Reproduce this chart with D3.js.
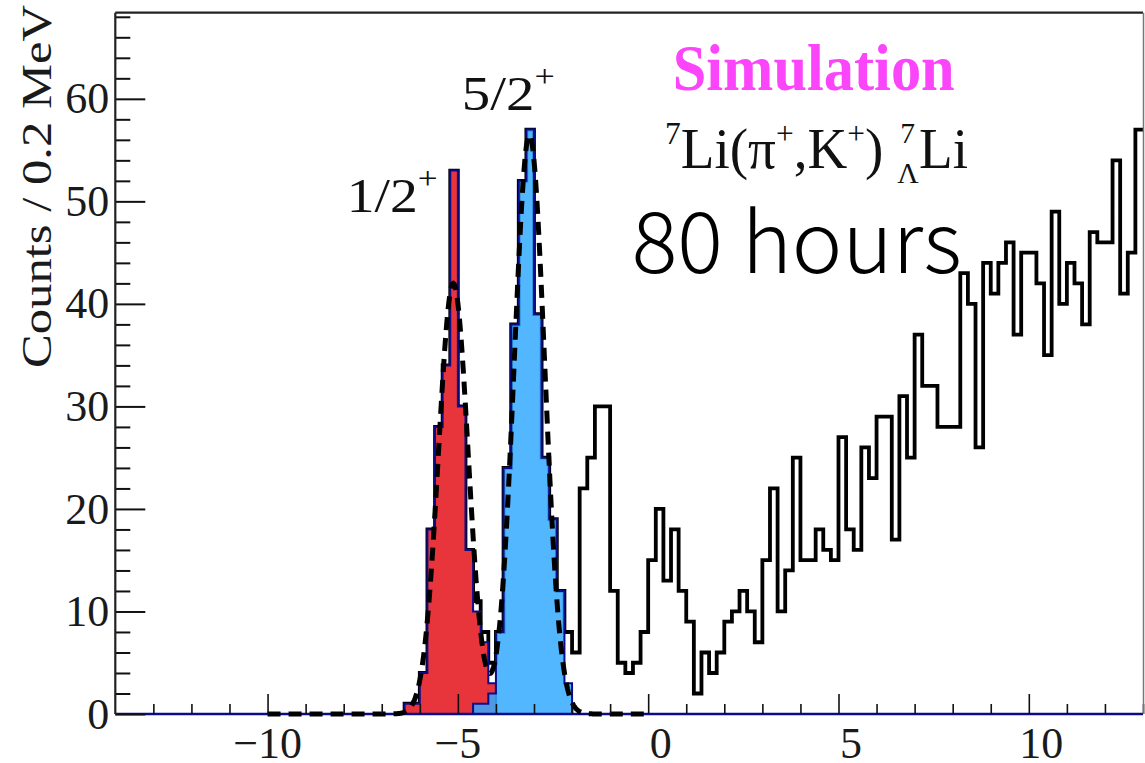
<!DOCTYPE html>
<html>
<head>
<meta charset="utf-8">
<script src="https://cdn.jsdelivr.net/npm/d3@7"></script>
<style>
  body { margin: 0; background: #fff; }
  svg { display: block; }
</style>
</head>
<body>
<svg id="chart" width="1145" height="763"></svg>
<script>
// binning of all histograms (MeV)
const binWidth = 0.2;
const xDomain = [-14, 13];
const yDomain = [0, 68.4];

// total spectrum, first bin starts at -6.4
const totalStart = -6.4;
const totalCounts = [
  1, 1, 4, 18, 28, 34, 53, 30, 16, 11,     // -6.4 .. -4.6
  8, 5, 8, 24, 38, 52, 57, 39, 25, 19,     // -4.4 .. -2.6
  12, 8, 6, 22, 25, 30, 30, 12, 5, 4,      // -2.4 .. -0.6
  5, 8, 15, 20, 13, 18, 12, 9, 2, 6,       // -0.4 .. 1.4
  4, 6, 9, 10, 12, 10, 7, 15, 22, 10,      // 1.6 .. 3.4
  14, 25, 15, 15, 18, 16, 15, 27, 18, 16,  // 3.6 .. 5.4
  26, 23, 29, 29, 17, 31, 25, 37, 32, 32,  // 5.6 .. 7.4
  28, 28, 28, 43, 40, 26, 44, 41, 44, 46,  // 7.6 .. 9.4
  37, 45, 45, 42, 35, 49, 40, 44, 42, 38,  // 9.6 .. 11.4
  47, 46, 46, 54, 41, 45, 57               // 11.6 .. 12.8
];

// 1/2+ state
const redStart = -6.4;
const redCounts = [1, 1, 4, 18, 28, 34, 53, 30, 16, 10, 7, 3];

// 5/2+ state
const blueStart = -4.6;
const blueCounts = [1, 1, 2, 8, 24, 38, 52, 57, 39, 25, 19, 12, 3];

// two gaussian fit (dashed)
const fitRange = [-10, 0];
const fitMeans = [-5.12, -3.12];
const fitSigmas = [0.39, 0.40];
const fitAmps = [42, 56.5];

const xMajor = [-10, -5, 0, 5, 10];
const yMajor = [0, 10, 20, 30, 40, 50, 60];

var svg = d3.select("#chart");
var serif = "'Liberation Serif', 'Times New Roman', serif";

var x = d3.scaleLinear().domain(xDomain).range([115.3, 1143]);
var y = d3.scaleLinear().domain(yDomain).range([714, 12.7]);

/**
 * Turns a list of counts into step points for d3's curveStepAfter.
 */
function stepPoints(start, counts, closeEnd) {
  var pts = [{x: start, c: 0}];
  counts.forEach(function(c, i) {
    pts.push({x: start + i * binWidth, c: c});
  });
  var end = start + counts.length * binWidth;
  pts.push({x: end, c: counts[counts.length - 1]});
  if (closeEnd) pts.push({x: end, c: 0});
  return pts;
}

var line = d3.line()
  .x(function(d) { return x(d.x); })
  .y(function(d) { return y(d.c); })
  .curve(d3.curveStepAfter);

var area = d3.area()
  .x(function(d) { return x(d.x); })
  .y0(y(0))
  .y1(function(d) { return y(d.c); })
  .curve(d3.curveStepAfter);

// total spectrum
svg.append("path")
  .attr("d", line(stepPoints(totalStart, totalCounts, false)))
  .attr("fill", "none")
  .attr("stroke", "#000")
  .attr("stroke-width", 3.8)
  .attr("stroke-linejoin", "miter");

// state components
svg.append("path")
  .attr("d", area(stepPoints(redStart, redCounts, true)))
  .attr("fill", "#e8353c")
  .attr("stroke", "#0c0c8a")
  .attr("stroke-width", 2);

svg.append("path")
  .attr("d", area(stepPoints(blueStart, blueCounts, true)))
  .attr("fill", "#35aaff")
  .attr("fill-opacity", 0.85)
  .attr("stroke", "#0c0c8a")
  .attr("stroke-width", 2);

// zero line of the component histograms
svg.append("line")
  .attr("x1", x(xDomain[0])).attr("x2", x(xDomain[1]))
  .attr("y1", y(0)).attr("y2", y(0))
  .attr("stroke", "#0c0c8a")
  .attr("stroke-width", 2.4);

// fit curve
var fitX = d3.range(fitRange[0], fitRange[1] + 0.001, 0.02);
var fitPts = fitX.map(function(v) {
  var s = 0;
  for (var k = 0; k < fitMeans.length; k++) {
    var z = (v - fitMeans[k]) / fitSigmas[k];
    s += fitAmps[k] * Math.exp(-0.5 * z * z);
  }
  return {x: v, c: s};
});
svg.append("path")
  .attr("d", d3.line().x(d => x(d.x)).y(d => y(d.c))(fitPts))
  .attr("fill", "none")
  .attr("stroke", "#000")
  .attr("stroke-width", 5)
  .attr("stroke-dasharray", "13,8");

// axes, ticks pointing inwards
var tickFont = 44;

svg.append("g")
  .attr("transform", "translate(" + x(xDomain[0]) + ",0)")
  .call(d3.axisLeft(y).tickValues(d3.range(0, 68.4, 2).filter(v => v % 10 != 0))
    .tickSizeInner(-15).tickSizeOuter(0).tickFormat(""))
  .call(g => g.select(".domain").remove())
  .selectAll("line").attr("stroke", "#111").attr("stroke-width", 2);

var yAx = svg.append("g")
  .attr("transform", "translate(" + x(xDomain[0]) + ",0)")
  .call(d3.axisLeft(y).tickValues(yMajor).tickSizeInner(-30).tickSizeOuter(0).tickPadding(6));
yAx.select(".domain").remove();
yAx.selectAll("line").attr("stroke", "#111").attr("stroke-width", 2);
yAx.selectAll("text")
  .style("font-family", serif)
  .style("font-size", tickFont + "px")
  .attr("fill", "#1a1a1a");

svg.append("g")
  .attr("transform", "translate(0," + y(0) + ")")
  .call(d3.axisBottom(x).tickValues(d3.range(-13, 14, 1).filter(v => v % 5 != 0))
    .tickSizeInner(-10).tickSizeOuter(0).tickFormat(""))
  .call(g => g.select(".domain").remove())
  .selectAll("line").attr("stroke", "#111").attr("stroke-width", 1.6);

var xAx = svg.append("g")
  .attr("transform", "translate(0," + y(0) + ")")
  .call(d3.axisBottom(x).tickValues(xMajor).tickSizeInner(-20).tickSizeOuter(0).tickPadding(13));
xAx.select(".domain").remove();
xAx.selectAll("line").attr("stroke", "#111").attr("stroke-width", 1.6);
// digits sit a bit right of the tick, the minus hangs out to the left
xAx.selectAll("text")
  .style("font-family", serif)
  .style("font-size", tickFont + "px")
  .attr("fill", "#1a1a1a")
  .attr("text-anchor", "end")
  .attr("x", d => 12 + 0.25 * tickFont * String(Math.abs(d)).length);

// frame
svg.append("line").attr("x1", 115.3).attr("x2", 1143).attr("y1", 12.7).attr("y2", 12.7)
  .attr("stroke", "#222").attr("stroke-width", 2.2);
svg.append("line").attr("x1", 115.3).attr("x2", 115.3).attr("y1", 12.7).attr("y2", 714)
  .attr("stroke", "#222").attr("stroke-width", 2.2);
svg.append("line").attr("x1", 1143.5).attr("x2", 1143.5).attr("y1", 12.7).attr("y2", 714)
  .attr("stroke", "#777").attr("stroke-width", 1.5);

/**
 * Squeezes a text group horizontally so it spans [x0, x0 + width].
 */
function fitWidth(g, x0, width) {
  var bb = g.node().getBBox();
  var k = width / bb.width;
  g.attr("transform", "translate(" + (x0 - k * bb.x) + ",0) scale(" + k + ",1)");
}

// axis title
svg.append("text")
  .attr("transform", "translate(51,5) rotate(-90)")
  .attr("text-anchor", "end")
  .attr("textLength", 363)
  .attr("lengthAdjust", "spacingAndGlyphs")
  .style("font-family", serif)
  .style("font-size", "42px")
  .attr("fill", "#1a1a1a")
  .text("Counts / 0.2 MeV");

// state labels
function stateLabel(txt, x0, width, base) {
  var g = svg.append("g");
  var t = g.append("text")
    .attr("x", 0).attr("y", base)
    .style("font-family", serif)
    .style("font-size", "49px")
    .attr("fill", "#111");
  t.append("tspan").text(txt);
  t.append("tspan").attr("dy", -23).style("font-size", "31px").text("+");
  fitWidth(g, x0, width);
}
stateLabel("1/2", 346.7, 91, 212);
stateLabel("5/2", 461.7, 93, 110);

// Simulation
svg.append("text")
  .attr("x", 672.7).attr("y", 90)
  .attr("textLength", 282)
  .attr("lengthAdjust", "spacingAndGlyphs")
  .style("font-family", serif)
  .style("font-weight", "bold")
  .style("font-size", "66px")
  .attr("fill", "#fa45fa")
  .text("Simulation");

// reaction
var rg = svg.append("g").style("font-family", serif).attr("fill", "#111");
var rt = rg.append("text").attr("x", 0).attr("y", 168).style("font-size", "56px");
rt.append("tspan").style("font-size", "32px").attr("dy", -24).text("7");
rt.append("tspan").attr("dy", 24).text("Li(\u03c0");
rt.append("tspan").style("font-size", "32px").attr("dy", -24).text("+");
rt.append("tspan").attr("dy", 24).text(",K");
rt.append("tspan").style("font-size", "32px").attr("dy", -24).text("+");
rt.append("tspan").attr("dy", 24).text(")");
var rb = rt.node().getBBox();
var rx = rb.x + rb.width + 14;
rg.append("text").attr("x", rx + 3).attr("y", 143).style("font-size", "30px").text("7");
rg.append("text").attr("x", rx).attr("y", 183).style("font-size", "30px").text("\u039b");
rg.append("text").attr("x", rx + 22).attr("y", 168).style("font-size", "56px").text("Li");
fitWidth(rg, 665, 303);

// exposure
svg.append("text")
  .attr("x", 631.7).attr("y", 273)
  .attr("textLength", 330)
  .attr("lengthAdjust", "spacingAndGlyphs")
  .style("font-family", "'Noto Sans CJK JP', 'Noto Sans', sans-serif")
  .style("font-weight", 300)
  .style("font-size", "84px")
  .attr("fill", "#000")
  .text("80 hours");
</script>
</body>
</html>
